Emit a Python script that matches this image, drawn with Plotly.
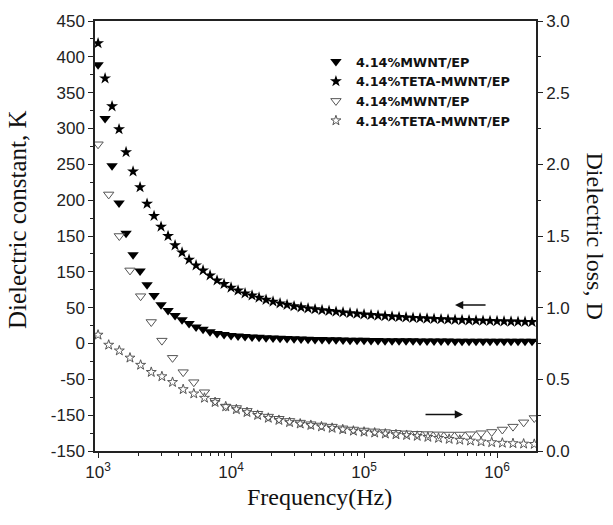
import math
import plotly.graph_objects as go

# ---------------- data ----------------
# frequency grid of the dielectric-constant series (Hz)
freq_K = [1000, 1129, 1274, 1438, 1624, 1833, 2069, 2336, 2637, 2976, 3360, 3793, 4281,
          4833, 5456, 6158, 6952, 7848, 8859,
          10000, 11288, 12743, 14384, 16238, 18330, 20691, 23357, 26367, 29764, 33598,
          37927, 42813, 48329, 54556, 61585, 69519, 78476, 88587,
          100000, 112884, 127427, 143845, 162378, 183298, 206914, 233572, 263665, 297635,
          335982, 379269, 428133, 483293, 545559, 615848, 695193, 784760, 885867,
          1000000, 1128838, 1274275, 1438450, 1623777, 1832981]

# dielectric constant K, 4.14%MWNT/EP (filled down-triangles)
K_mwnt = [389, 314, 248, 196, 154, 124, 101, 82, 67, 54, 46, 39, 33, 28, 23, 20, 16.5, 14,
          12.5, 11.3, 10.4, 9.7, 9.1, 8.6, 8.1, 7.7, 7.3, 7.0, 6.6, 6.3, 6.0, 5.7, 5.5, 5.3,
          5.1, 4.9, 4.7, 4.5, 4.4, 4.2, 4.1, 4.0, 3.9, 3.8, 3.7, 3.7, 3.6, 3.5, 3.5, 3.4, 3.4,
          3.3, 3.3, 3.2, 3.2, 3.2, 3.1, 3.1, 3.1, 3.0, 3.0, 3.0, 3.0]

# dielectric constant K, 4.14%TETA-MWNT/EP (filled stars)
K_teta = [419, 370, 331, 299, 267, 240, 218, 195, 178, 163, 150, 137, 127, 117, 109, 102,
          95, 88, 83, 78, 74, 70, 67, 64, 61, 58.5, 56, 54, 52, 50.5, 49, 47.8, 46.6, 45.5,
          44.4, 43.4, 42.4, 41.5, 40.6, 39.8, 39.0, 38.3, 37.6, 37.0, 36.4, 35.8, 35.3, 34.8,
          34.3, 33.9, 33.5, 33.1, 32.7, 32.4, 32.1, 31.8, 31.5, 31.2, 30.9, 30.6, 30.4, 30.2,
          30.0]

# frequency grid of the dielectric-loss series (Hz)
freq_D = [1000, 1202, 1445, 1738, 2089, 2512, 3020, 3631, 4365, 5248, 6310, 7586, 9120,
          10965, 13183, 15849, 19055, 22909, 27542, 33113, 39811, 47863, 57544, 69183,
          83176, 100000, 120226, 144544, 173780, 208930, 251189, 301995, 363078, 436516,
          524807, 630957, 758578, 912011, 1096478, 1318257, 1584893, 1905461]

# dielectric loss D, 4.14%MWNT/EP (open down-triangles)
D_mwnt = [2.14, 1.79, 1.50, 1.26, 1.08, 0.90, 0.77, 0.65, 0.55, 0.48, 0.41, 0.35, 0.31,
          0.30, 0.28, 0.26, 0.24, 0.225, 0.21, 0.198, 0.187, 0.178, 0.17, 0.158, 0.15,
          0.143, 0.137, 0.132, 0.127, 0.123, 0.12, 0.118, 0.116, 0.115, 0.115, 0.117,
          0.124, 0.133, 0.15, 0.17, 0.20, 0.23]

# dielectric loss D, 4.14%TETA-MWNT/EP (open stars)
D_teta = [0.81, 0.74, 0.70, 0.65, 0.60, 0.55, 0.52, 0.48, 0.43, 0.40, 0.37, 0.34, 0.31,
          0.29, 0.27, 0.25, 0.23, 0.215, 0.20, 0.19, 0.18, 0.17, 0.16, 0.15, 0.14, 0.133,
          0.127, 0.12, 0.115, 0.11, 0.104, 0.097, 0.09, 0.083, 0.077, 0.071, 0.065, 0.06,
          0.056, 0.053, 0.05, 0.048]

series_names = ["4.14%MWNT/EP", "4.14%TETA-MWNT/EP", "4.14%MWNT/EP", "4.14%TETA-MWNT/EP"]

x_tick_vals = [1e3, 1e4, 1e5, 1e6]
x_tick_text = ["10<sup>3</sup>", "10<sup>4</sup>", "10<sup>5</sup>", "10<sup>6</sup>"]
y_tick_vals = [-150, -100, -50, 0, 50, 100, 150, 200, 250, 300, 350, 400, 450]
y_tick_text = ["-150", "-150", "-50", "0", "50", "150", "150", "200", "250", "300",
               "350", "400", "450"]
y2_tick_vals = [0, 0.5, 1.0, 1.5, 2.0, 2.5, 3.0]
y2_tick_text = ["0.0", "0.5", "1.0", "1.5", "2.0", "2.5", "3.0"]

x_title = "Frequency(Hz)"
y_title = "Dielectric constant, K"
y2_title = "Dielectric loss, D"

# ---------------- figure ----------------
fig = go.Figure()
GRAY = "#555555"
fig.add_trace(go.Scatter(x=freq_K, y=K_mwnt, mode="markers", name=series_names[0],
                         marker=dict(symbol="triangle-down", size=10, color="black",
                                     line=dict(width=0))))
fig.add_trace(go.Scatter(x=freq_K, y=K_teta, mode="markers", name=series_names[1],
                         marker=dict(symbol="star", size=9, color="black",
                                     line=dict(width=0))))
fig.add_trace(go.Scatter(x=freq_D, y=D_mwnt, mode="markers", name=series_names[2],
                         yaxis="y2",
                         marker=dict(symbol="triangle-down-open", size=9, color=GRAY,
                                     line=dict(width=1, color=GRAY))))
fig.add_trace(go.Scatter(x=freq_D, y=D_teta, mode="markers", name=series_names[3],
                         yaxis="y2",
                         marker=dict(symbol="star-open", size=7.5, color=GRAY,
                                     line=dict(width=1, color=GRAY))))

tick_font = dict(family="Liberation Sans, Arial, sans-serif", size=17, color="#222")
title_font = dict(family="Liberation Serif, Times New Roman, serif", size=25, color="#111")

minor_x = [m * 10 ** d for d in range(3, 7) for m in range(2, 10) if m * 10 ** d < 1.95e6]

axis_common = dict(showgrid=False, zeroline=False, showline=True, linecolor="#222",
                   linewidth=1.5, ticks="outside", ticklen=5, tickwidth=1.3,
                   tickcolor="#222", tickfont=tick_font)

fig.update_layout(
    width=613, height=525,
    margin=dict(l=95, r=77, t=16, b=74),
    paper_bgcolor="white", plot_bgcolor="white",
    xaxis=dict(type="log", range=[2.977, 6.293], tickmode="array",
               tickvals=x_tick_vals, ticktext=x_tick_text, mirror=True,
               minor=dict(tickmode="array", tickvals=minor_x, ticks="outside",
                          ticklen=3, tickwidth=1.1, tickcolor="#222"),
               **axis_common),
    yaxis=dict(range=[-150, 450], tickmode="array", tickvals=y_tick_vals,
               ticktext=y_tick_text,
               minor=dict(dtick=25, tick0=0, ticks="outside", ticklen=3,
                          tickwidth=1.1, tickcolor="#222"),
               **axis_common),
    yaxis2=dict(range=[0, 3], overlaying="y", side="right", tickmode="array",
                tickvals=y2_tick_vals, ticktext=y2_tick_text,
                minor=dict(dtick=0.25, tick0=0, ticks="outside", ticklen=3,
                           tickwidth=1.1, tickcolor="#222"),
                **axis_common),
    showlegend=True,
    legend=dict(x=0.501, y=0.940, xanchor="left", yanchor="top",
                bgcolor="rgba(0,0,0,0)", borderwidth=0,
                font=dict(family="DejaVu Sans, Liberation Sans, sans-serif", size=12.8,
                          color="#111", weight="bold"),
                itemwidth=30, tracegroupgap=0),
)

# axis titles
fig.add_annotation(text=x_title, xref="paper", yref="paper", x=0.51, y=-0.107,
                   xanchor="center", yanchor="middle", showarrow=False,
                   font=dict(family=title_font["family"], size=24, color="#111"))
fig.add_annotation(text=y_title, xref="paper", yref="paper", x=-0.176, y=0.538,
                   xanchor="center", yanchor="middle", textangle=-90, showarrow=False,
                   font=title_font)
fig.add_annotation(text=y2_title, xref="paper", yref="paper", x=1.134, y=0.501,
                   xanchor="center", yanchor="middle", textangle=90, showarrow=False,
                   font=dict(family=title_font["family"], size=24, color="#111"))

# arrows pointing to the relevant axis
fig.add_annotation(text="", xref="x", yref="y", x=5.684, y=53.6,
                   axref="x", ayref="y", ax=5.925, ay=53.6, showarrow=True,
                   arrowhead=2, arrowsize=1.1, arrowwidth=1.5, arrowcolor="#111")
fig.add_annotation(text="", xref="x", yref="y2", x=5.744, y=0.255,
                   axref="x", ayref="y2", ax=5.451, ay=0.255, showarrow=True,
                   arrowhead=2, arrowsize=1.1, arrowwidth=1.5, arrowcolor="#111")

fig.write_html("out.html", config={"displayModeBar": False},
               post_script="document.body.style.margin='0';document.body.style.padding='0';")
